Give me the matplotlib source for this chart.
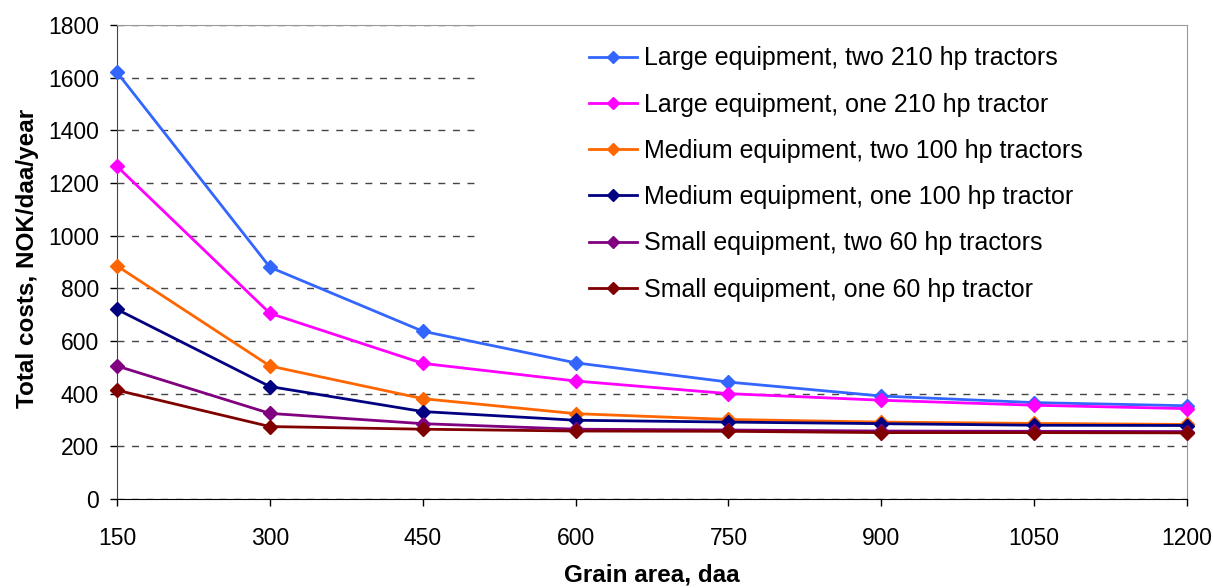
import matplotlib.pyplot as plt
from matplotlib.patches import Rectangle

plt.rcParams['font.family'] = ['Liberation Sans', 'DejaVu Sans']

# Data
area = [150, 300, 450, 600, 750, 900, 1050, 1200]
large_two = [1620, 880, 637, 517, 444, 391, 366, 354]
large_one = [1263, 705, 515, 448, 400, 375, 356, 343]
medium_two = [885, 505, 381, 324, 302, 292, 287, 283]
medium_one = [720, 427, 332, 299, 292, 286, 280, 279]
small_two = [505, 325, 286, 265, 262, 258, 257, 256]
small_one = [413, 275, 265, 258, 257, 252, 252, 251]

series = [
    ('Large equipment, two 210 hp tractors', large_two, '#3366FF'),
    ('Large equipment, one 210 hp tractor', large_one, '#FF00FF'),
    ('Medium equipment, two 100 hp tractors', medium_two, '#FF6600'),
    ('Medium equipment, one 100 hp tractor', medium_one, '#000080'),
    ('Small equipment, two 60 hp tractors', small_two, '#800080'),
    ('Small equipment, one 60 hp tractor', small_one, '#800000'),
]

fig = plt.figure(figsize=(12.13, 5.88), dpi=100)
ax = fig.add_axes([0.0965, 0.1514, 0.8821, 0.8061])

for label, vals, col in series:
    ax.plot(area, vals, color=col, lw=2, marker='D', ms=7, label=label,
            clip_on=False, zorder=3)

ax.set_xlim(150, 1200)
ax.set_ylim(0, 1800)
ax.set_xticks(area)
ax.set_yticks(range(0, 1801, 200))
ax.tick_params(labelsize=16.5, direction='out', length=5, width=1, colors='black')
ax.tick_params(axis='x', pad=15)
ax.tick_params(axis='y', pad=8)

ax.yaxis.grid(True, linestyle=(0, (5, 5.5)), color='#444444', lw=1)
ax.set_axisbelow(True)

ax.spines['left'].set_color('#444444')
ax.spines['bottom'].set_color('black')
ax.spines['top'].set_color('#999999')
ax.spines['right'].set_color('#999999')

# white block behind legend (hides grid there)
ax.add_patch(Rectangle((0.337, 0.39), 0.663, 0.607, transform=ax.transAxes,
                       facecolor='white', edgecolor='none', zorder=1.5))

leg = ax.legend(loc='upper left', bbox_to_anchor=(0.441, 0.955), frameon=False,
                fontsize=18, handlelength=1.92, labelspacing=0.89,
                handletextpad=0.28, borderpad=0, borderaxespad=0,
                markerscale=0.85)

ax.set_xlabel('Grain area, daa', fontsize=17.5, fontweight='bold')
ax.set_ylabel('Total costs, NOK/daa/year', fontsize=17.5, fontweight='bold')
ax.xaxis.set_label_coords(0.5, -0.137)
ax.yaxis.set_label_coords(-0.073, 0.508)

fig.savefig('out.png', dpi=100)
